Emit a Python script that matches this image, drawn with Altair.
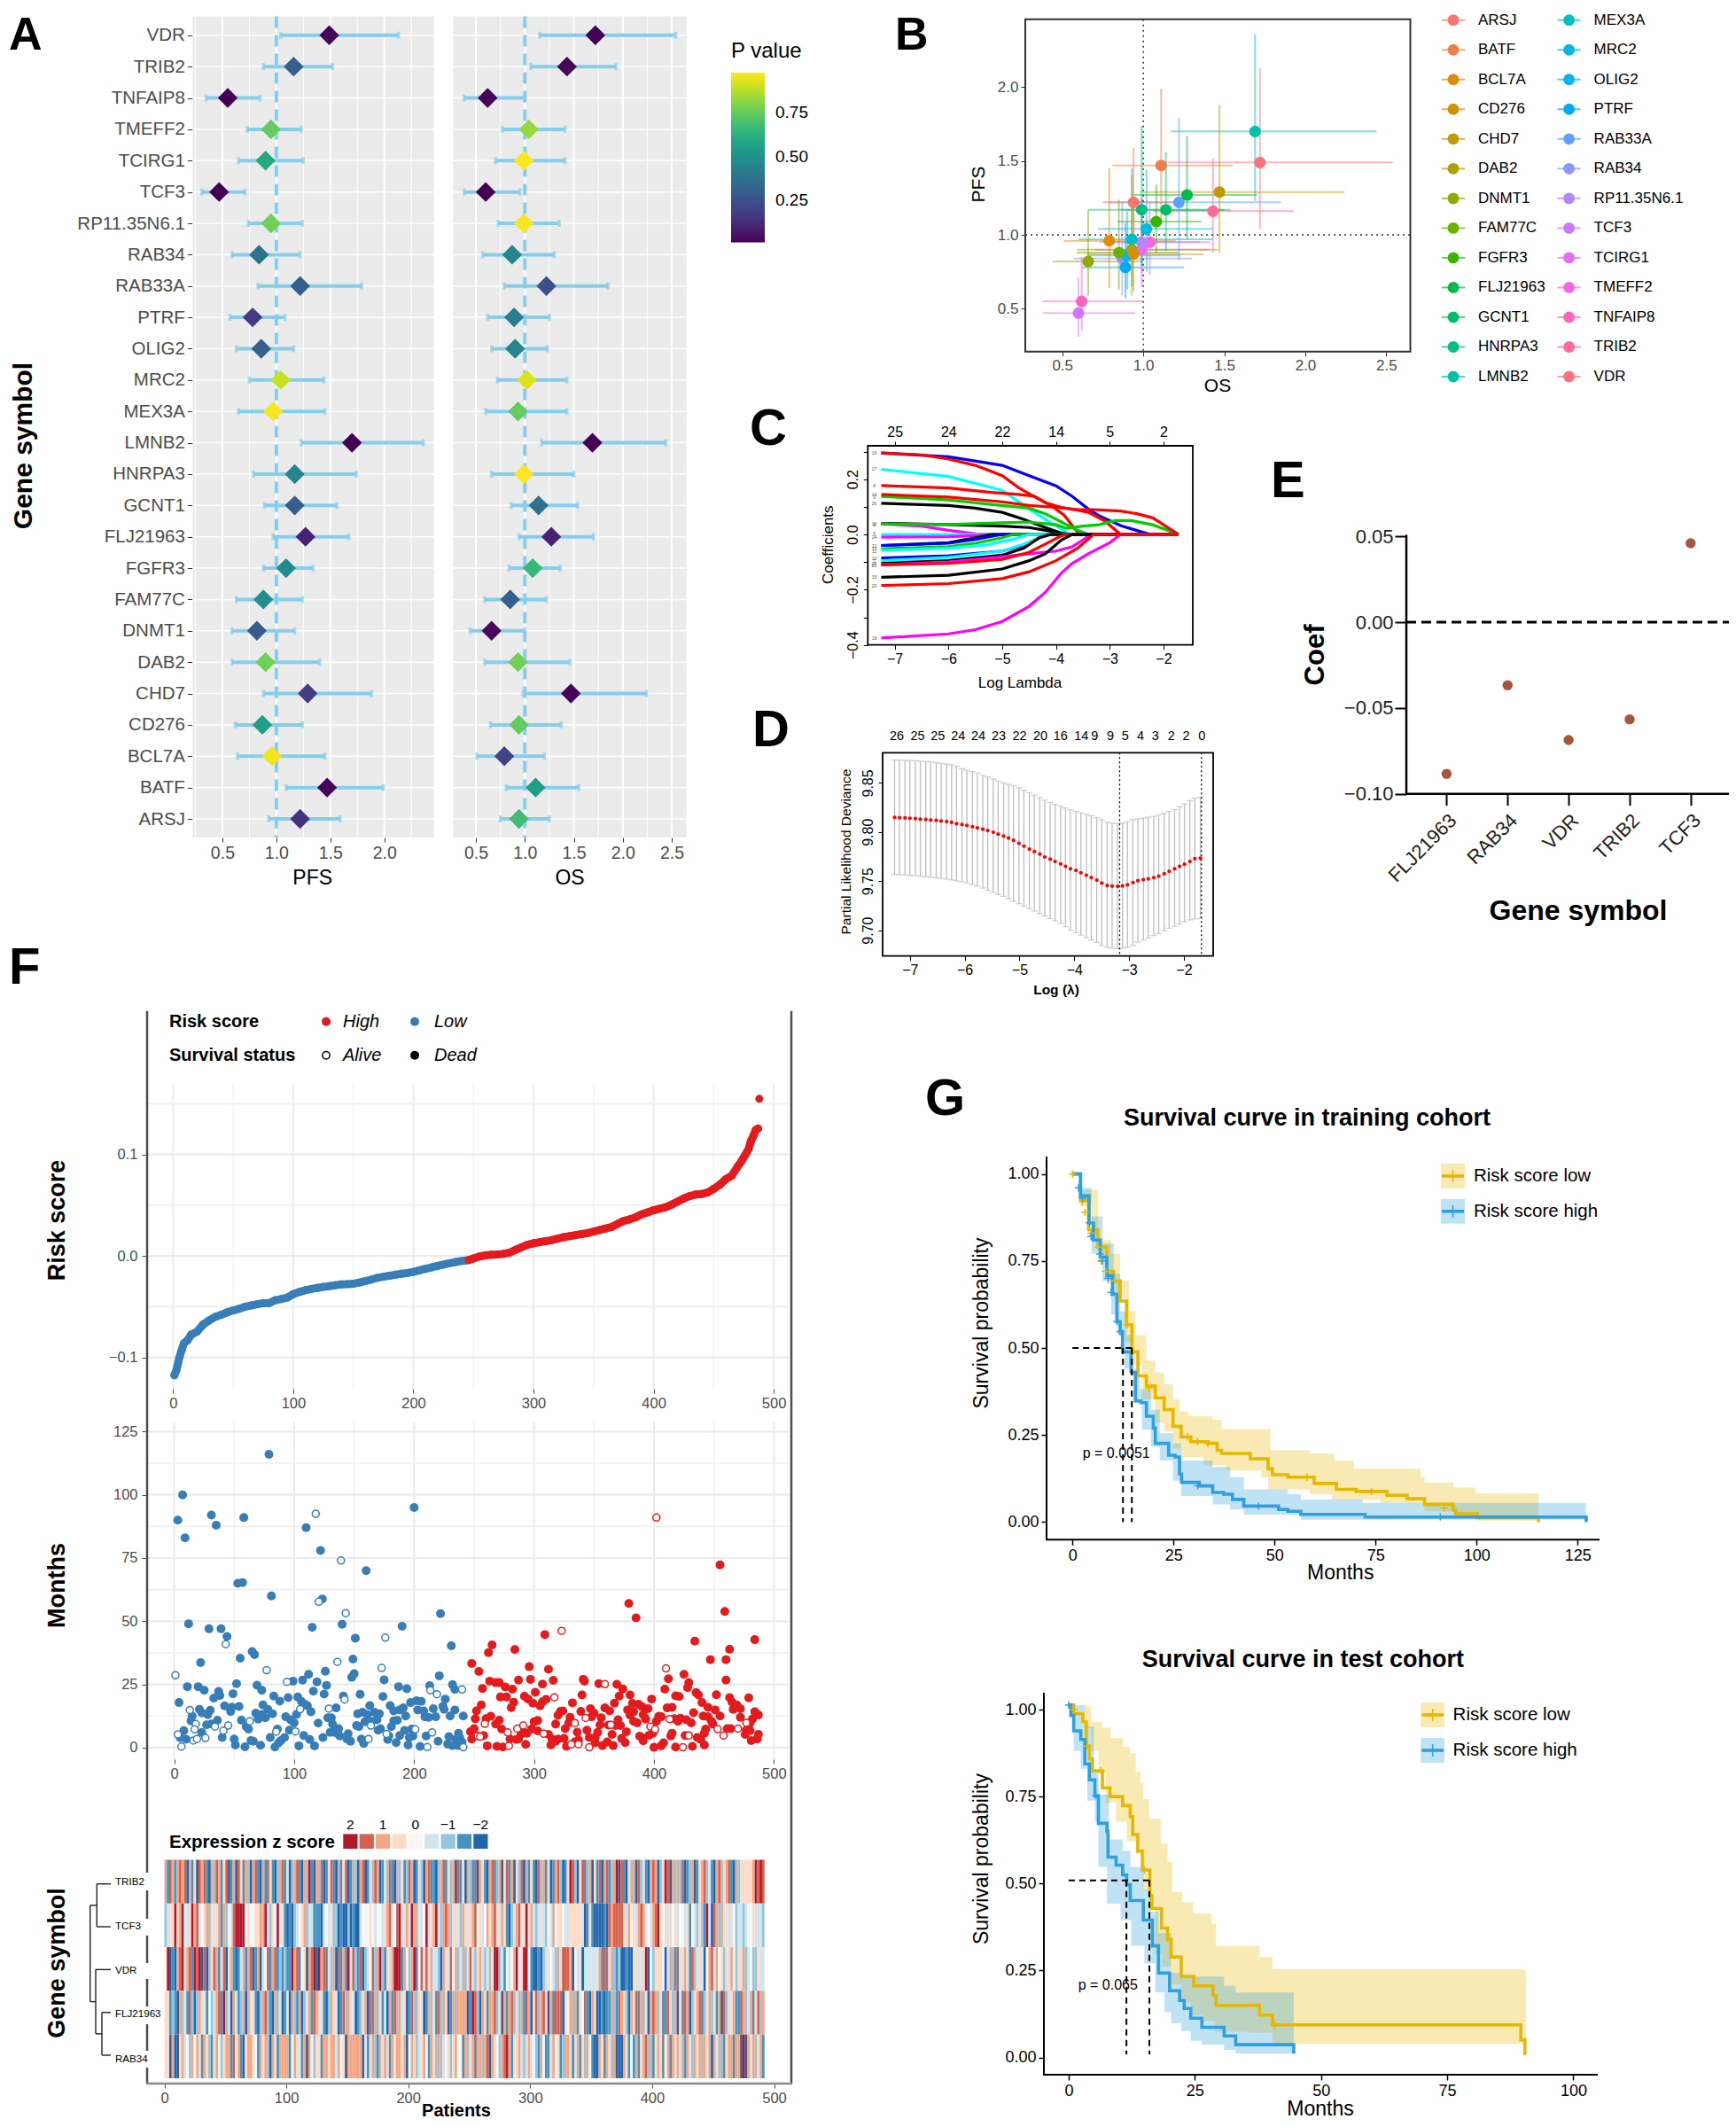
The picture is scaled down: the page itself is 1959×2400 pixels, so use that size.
import altair as alt
import pandas as pd

W, H = 1943, 2384
FONT = "Liberation Sans"
INK = "#4D4D4D"
SKY = "#87CEEB"

# ---------- Panel A / B data ----------
GENES = ["VDR","TRIB2","TNFAIP8","TMEFF2","TCIRG1","TCF3","RP11.35N6.1","RAB34","RAB33A","PTRF","OLIG2","MRC2","MEX3A",
         "LMNB2","HNRPA3","GCNT1","FLJ21963","FGFR3","FAM77C","DNMT1","DAB2","CHD7","CD276","BCL7A","BATF","ARSJ"]
PFS_LO = [1.04,.88,.35,.73,.65,.31,.74,.59,.83,.57,.63,.75,.65,1.23,.79,.89,.97,.88,.63,.59,.59,.88,.62,.64,1.09,.93]
PFS_HR = [1.49,1.16,.55,.95,.90,.47,.95,.84,1.22,.78,.86,1.04,.97,1.70,1.17,1.17,1.27,1.09,.88,.82,.90,1.29,.87,.96,1.47,1.22]
PFS_HI = [2.13,1.52,.85,1.23,1.25,.71,1.24,1.22,1.79,1.08,1.16,1.44,1.45,2.36,1.74,1.56,1.67,1.34,1.24,1.17,1.40,1.88,1.24,1.45,1.99,1.59]
PFS_P = [.02,.30,.01,.75,.60,.01,.77,.38,.30,.17,.30,.90,.97,.01,.45,.30,.10,.47,.48,.28,.77,.18,.55,.96,.02,.15]
OS_LO = [1.15,1.06,.38,.77,.70,.38,.73,.57,.79,.62,.66,.72,.60,1.17,.66,.86,.94,.84,.59,.44,.59,.98,.65,.51,.81,.75]
OS_HR = [1.72,1.43,.62,1.04,.99,.60,.99,.87,1.22,.89,.90,1.02,.93,1.69,.99,1.14,1.27,1.08,.85,.66,.93,1.47,.94,.79,1.11,.94]
OS_HI = [2.54,1.93,1.00,1.41,1.41,.95,1.35,1.30,1.85,1.25,1.23,1.43,1.43,2.44,1.50,1.54,1.70,1.36,1.22,1.00,1.46,2.24,1.37,1.20,1.55,1.25]
OS_P = [.01,.02,.02,.83,.98,.01,.97,.45,.25,.42,.45,.93,.75,.01,.98,.37,.10,.66,.30,.03,.77,.02,.75,.20,.55,.68]
LEGEND_GENES = sorted(GENES, key=lambda g: g.upper())
HUES = ["#F8766D","#EF7F49","#E38900","#D49000","#C19A00","#ABA300","#8FAA00","#6BB100","#39B600","#00BB45","#00BE67","#00C085",
        "#00C1A9","#00BFC4","#00BBDB","#00B4EF","#00ABFD","#5BA3FF","#8F94FF","#B186FF","#CF78FF","#E76BF3","#F863DF","#FF62BF","#FF6A9A","#FC717F"]
A = pd.DataFrame(dict(g=GENES,plo=PFS_LO,p=PFS_HR,phi=PFS_HI,pp=PFS_P,olo=OS_LO,o=OS_HR,ohi=OS_HI,op=OS_P))

# ---------- Panel C data (glmnet paths) ----------
CURVES = [
 ("#0000FF",[-7.25,-6,-5,-4.5,-4,-3.7,-3.4,-3.2,-2.8,-2.3,-2.2],[.295,.281,.25,.213,.176,.138,.092,.068,.032,.003,0]),
 ("#00FFFF",[-7.25,-6,-5,-4.6,-4.2,-3.9,-3.75],[.236,.21,.16,.105,.054,.02,0]),
 ("#FF0000",[-7.25,-6.5,-6,-5.5,-5,-4.7,-4.5,-4.2,-3.9,-3.6,-3.4,-3.1,-2.8],[.295,.288,.273,.25,.213,.17,.147,.115,.098,.088,.08,.05,0]),
 ("#FF0000",[-7.25,-6,-5.2,-4.7,-4.4,-4.1,-3.85,-3.65,-3.55],[.177,.168,.152,.145,.138,.105,.07,.02,0]),
 ("#00CD00",[-7.25,-6,-5,-4.5,-4.2,-3.9,-3.6,-3.4],[.138,.125,.105,.095,.075,.045,.015,0]),
 ("#000000",[-7.25,-6,-5.5,-5,-4.6,-4.2,-3.9,-3.75],[.113,.105,.095,.08,.055,.025,.005,0]),
 ("#000000",[-7.25,-6,-5,-4.5,-4.1,-3.8],[.04,.036,.03,.025,.012,0]),
 ("#FF00FF",[-7.25,-6.5,-6,-5.5,-5.2],[.038,.03,.015,.002,0]),
 ("#00FFFF",[-7.25,-5],[.0,0]),
 ("#FF00FF",[-7.25,-6,-5.5,-5],[-.01,-.008,-.004,0]),
 ("#000000",[-7.25,-6,-5.5,-5.2],[-.04,-.03,-.012,0]),
 ("#0000FF",[-7.25,-6,-5.5,-5],[-.04,-.032,-.018,0]),
 ("#00CD00",[-7.25,-6,-5.5,-5,-4.8],[-.052,-.044,-.032,-.012,0]),
 ("#00FFFF",[-7.25,-6,-5.3,-4.8,-4.5],[-.058,-.05,-.038,-.018,0]),
 ("#0000FF",[-7.25,-6,-5,-4.6,-4.3,-4.1],[-.085,-.077,-.06,-.04,-.012,0]),
 ("#00FFFF",[-7.25,-6,-5,-4.6,-4.3,-4.15],[-.095,-.083,-.06,-.035,-.01,0]),
 ("#000000",[-7.25,-6,-5,-4.6,-4.3,-4.1],[-.105,-.095,-.075,-.05,-.01,0]),
 ("#FF00FF",[-7.25,-6,-5,-4.5,-4,-3.7,-3.5,-3.35],[-.11,-.1,-.08,-.07,-.06,-.045,-.02,0]),
 ("#FF0000",[-7.25,-6,-5,-4.5,-4.1,-3.9,-3.8],[-.11,-.105,-.09,-.065,-.025,-.005,0]),
 ("#000000",[-7.25,-6,-5,-4.5,-4.2,-3.9,-3.7],[-.155,-.148,-.125,-.095,-.07,-.02,0]),
 ("#FF00FF",[-7.25,-6,-5.5,-5,-4.5,-4.2,-3.9,-3.7,-3.4,-3,-2.8],[-.375,-.36,-.345,-.315,-.26,-.21,-.14,-.105,-.07,-.03,0]),
 ("#00CD00",[-7.25,-6,-5,-4.5,-4,-3.8,-3.5,-3.2,-2.9,-2.6,-2.2,-1.72],[.038,.036,.042,.045,.035,.022,.03,.035,.05,.05,.035,0]),
 ("#FF0000",[-7.25,-6,-5,-4.5,-4,-3.6,-3.3,-2.8,-2.5,-2.2,-1.72],[.145,.135,.118,.105,.098,.09,.09,.085,.075,.06,0]),
 ("#FF0000",[-7.25,-6,-5,-4.5,-4,-3.6,-3.3,-1.72],[-.185,-.178,-.16,-.135,-.095,-.05,0,0]),
]
CURVE_TAGS = ["19","17","8","14","3","26","16","9","5","24","22","13","11","10","7","25","21","15","20","18"]
CURVE_TAG_Y = [.295,.236,.177,.145,.136,.113,.04,.036,.002,-.01,-.04,-.05,-.06,-.085,-.095,-.105,-.112,-.155,-.185,-.375]

# ---------- Panel D data (cross-validation) ----------
D_X = [-7.28,-7.19,-7.09,-7.00,-6.90,-6.81,-6.71,-6.62,-6.52,-6.43,-6.33,-6.24,-6.15,-6.05,-5.96,-5.86,-5.77,-5.67,-5.58,-5.48,
       -5.39,-5.29,-5.20,-5.11,-5.01,-4.92,-4.82,-4.73,-4.63,-4.54,-4.44,-4.35,-4.25,-4.16,-4.07,-3.97,-3.88,-3.78,-3.69,-3.59,
       -3.50,-3.40,-3.31,-3.21,-3.12,-3.03,-2.93,-2.84,-2.74,-2.65,-2.55,-2.46,-2.36,-2.27,-2.17,-2.08,-1.99,-1.89,-1.80,-1.70]
D_M = [9.8148,9.8146,9.8143,9.8140,9.8136,9.8131,9.8127,9.8122,9.8118,9.8112,9.8106,9.8098,9.8085,9.8076,9.8066,9.8054,9.8042,9.8028,9.8016,9.7998,
       9.7978,9.7958,9.7938,9.7915,9.7885,9.7855,9.7825,9.7800,9.7775,9.7745,9.7723,9.7700,9.7675,9.7650,9.7625,9.7608,9.7585,9.7560,9.7535,9.7510,
       9.7480,9.7455,9.7449,9.7447,9.7450,9.7462,9.7485,9.7505,9.7515,9.7523,9.7535,9.7550,9.7575,9.7600,9.7625,9.7650,9.7672,9.7700,9.7728,9.7734]
D_U = [9.8734,9.8733,9.8731,9.8729,9.8726,9.8722,9.8718,9.8713,9.8707,9.8700,9.8692,9.8685,9.8670,9.8645,9.8630,9.8615,9.8600,9.8580,9.8560,9.8540,
       9.8520,9.8500,9.8485,9.8470,9.8450,9.8425,9.8400,9.8375,9.8350,9.8325,9.8302,9.8280,9.8262,9.8245,9.8225,9.8210,9.8195,9.8180,9.8165,9.8145,
       9.8125,9.8100,9.8090,9.8087,9.8090,9.8105,9.8125,9.8132,9.8140,9.8150,9.8160,9.8175,9.8190,9.8210,9.8230,9.8260,9.8285,9.8320,9.8345,9.8354]
D_L = [9.7567,9.7565,9.7562,9.7558,9.7555,9.7550,9.7545,9.7540,9.7534,9.7527,9.7520,9.7512,9.7502,9.7495,9.7480,9.7465,9.7450,9.7430,9.7405,9.7385,
       9.7365,9.7345,9.7320,9.7295,9.7270,9.7245,9.7220,9.7195,9.7170,9.7145,9.7118,9.7095,9.7070,9.7035,9.7000,9.6975,9.6950,9.6925,9.6900,9.6875,
       9.6845,9.6825,9.6815,9.6812,9.6815,9.6825,9.6845,9.6880,9.6900,9.6920,9.6945,9.6965,9.6995,9.7020,9.7040,9.7060,9.7085,9.7105,9.7115,9.7118]
D_TOP_X = [-7.24,-6.86,-6.49,-6.12,-5.75,-5.38,-5.00,-4.62,-4.25,-3.87,-3.63,-3.34,-3.07,-2.79,-2.52,-2.23,-1.96,-1.67]
D_TOP = ["26","25","25","24","24","23","22","20","16","14","9","9","5","4","3","2","2","0"]

# ---------- Panel E data ----------
E_GENES = ["FLJ21963","RAB34","VDR","TRIB2","TCF3"]
E_COEF = [-.0884,-.0367,-.0686,-.0566,.0461]

# ---------- Panel F data ----------
RISK_LOW_X = [1,3,5,7,9,12,15,20,25,30,35,40,45,50,55,60,65,70,75,80,85,90,95,100,105,110,115,120,125,130,135,140,145,150,155,160,165,170,175,180,185,190,195,200,205,210,215,220,225,230,235,240,244]
RISK_LOW_Y = [-.1175,-.1115,-.1005,-.093,-.086,-.083,-.0775,-.0745,-.0675,-.0635,-.060,-.058,-.0555,-.0536,-.052,-.050,-.0488,-.0475,-.0465,-.0464,-.0435,-.0425,-.041,-.0376,-.0355,-.0338,-.0325,-.0315,-.0305,-.0297,-.0288,-.028,-.0277,-.0274,-.0262,-.0248,-.0232,-.0215,-.0205,-.0195,-.0185,-.0175,-.0168,-.0157,-.0142,-.0127,-.0113,-.0099,-.0085,-.0072,-.006,-.005,-.0045]
RISK_HIGH_X = [246,250,255,260,265,270,275,280,285,290,295,300,305,310,315,320,325,330,335,340,345,350,355,360,365,370,375,380,385,390,395,400,405,410,415,420,425,430,435,440,445,450,455,460,465,470,473,476,479,481,483,485,487,488]
RISK_HIGH_Y = [-.004,-.0025,-.0005,.0005,.0012,.0015,.002,.0032,.006,.0085,.011,.0125,.0135,.0145,.0155,.017,.0185,.0195,.0205,.0215,.0225,.024,.0255,.027,.0285,.0315,.0345,.036,.038,.041,.043,.045,.0465,.048,.0505,.0535,.0565,.059,.0605,.061,.0625,.066,.07,.0755,.079,.088,.093,.099,.105,.113,.118,.124,.1255,.1548]

LOW_DEAD = [(3,90),(7,100),(9,83),(31,92),(35,88),(58,91),(110,87),(79,116),(122,78),(160,70),(200,95),
 (12,49),(29,47),(39,47),(44,44),(22,33.6),(55,35.4),(65,38),(67,36.8),(81,60),(53,65),(57,65.3),(123.5,58.8),(115,47.6),(140,48.8),(151,43.3),(190,48),(222,53),(231,40.3),(149,35),(150,29.2),(148,27.8),(126,30.2),(112,29),(107,26.7),(99,26.3),(119,26),(127,24.6),(116,22.3),(125,21.2),(69,24.7),(73,22.7),(83,20.4),(88,18.4),(95,19.8),(52,25.3),(49,21.3),(37,22.2),(38,20.6),(33,19.6),(25,22.7),(20,24.1),(11,24.1),(4,17.8),(42,16.5),(48,16),(54,16.3),(21,15.1),(23,13.7),(28,13),(30,14.8),(47,14.3),(15,12.5),(14,10.6),(36,10.8),(31,9.3),(27,9),(56,10.8),(60,8.3),(62,7.3),(23,6),(8,6.7),(5,3.9),(10,3.3),(40,4),(50,3.4),(51,1),(59,.3),(64,2.8),(66,2.5),(72,.9),(80,4),(84,.2),(87,1.9),(89,2.8),(92,4),(86,7.3),(96,6.9),(74,16.9),(68,13.6),(70,11.3),(76,11.8),(78,15.1),(82,13.4),(73,13.1),(93,12.2),(97,11),(100,9.8),(102,13.1),(103,20),(106,18.3),(109,17.1),(111,16.5),(114,14.2),(120,9.7),(128,11.8),(131,11.8),(135,15.7),(132,9.3),(130,6),(133,6.1),(137,7.5),(136,5.7),(138,4.6),(145,5.5),(144,3.4),(147,2.5),(108,4.8),(113,3.2),(124,4),(104,.7),(117,.7),(141,20.4),(155,21.1),(163,16.6),(153,13.4),(157,14),(161,13.1),(167,14),(171,13.4),(169,11),(165,10.4),(159,10.2),(152,8.7),(154,8.3),(170,6.9),(172,7.5),(174,20.2),(175,26.8),(187,24.1),(194,23.3),(180,16.6),(183,14.5),(191,15.7),(188,14.9),(193,12.5),(186,10.8),(183,10.6),(181,8.3),(197,17.8),(202,18.5),(206,18.3),(203,14.9),(208,14.5),(216,15.4),(209,12.2),(212,12),(218,12.2),(224,16.3),(226,19.2),(221,28.4),(213,24.5),(232,24.9),(234,23),(225,15.1),(230,12.5),(234,14.9),(241,12.5),(192,6.8),(188,4.8),(179,4.6),(178,3.2),(185,2),(198,7.3),(199,4.6),(196,4),(195,1),(205,.5),(210,4.6),(220,2.5),(229,4.3),(228,1.4),(232,.8),(237,.8),(235,3.4),(237,5.7),(238,4),(240,2.2),(156,3.4),(158,1.6)]
LOW_ALIVE = [(118,92.5),(139,74),(1,28.6),(43,40.9),(120.5,57.7),(143,53.2),(176,43.5),(77,30.6),(94,26),(136,33.9),(173,31.5),(213.5,22.7),(219,21.1),(240,23),(142,19),(129,15.4),(105,15.2),(13,14.9),(63,10.4),(18,9.3),(17,7.2),(45,8.7),(34,8.3),(41,6.7),(3,5.2),(16,2.8),(19,3.4),(26,3.8),(6,.4),(85,6.3),(101,6.4),(164,8.7),(177,5.4),(162,3.4),(201,7.2),(215,6),(211,.2),(241,.1)]
HIGH_DEAD = [(455,72.3),(379,57),(385,51.3),(459,53.9),(434,42.1),(484,42.7),(309,44.7),(463,38.9),(447,34.8),(460,34.8),(460,26.7),(265,40.6),(262,37.6),(284,38.8),(248,33.3),(254,30.1),(296,32),(312,31),(263,26.3),(268,25.7),(271,25.7),(276,24),(287,26.7),(297,27),(307,25.1),(316,26.6),(257,23.4),(282,23.1),(341,27),(342,26.3),(354,25.3),(369,25),(374,23.2),(301,21.9),(340,20.8),(272,20),(277,20),(292,20.3),(295,19.2),(299,17.6),(310,19.1),(307,18.1),(305,16.5),(283,17.9),(281,15.8),(256,16.9),(252,14.5),(332,17.7),(322,14.3),(324,14.5),(320,12.8),(339,14.3),(347,15.4),(350,13.6),(348,12.2),(330,12),(356,11.8),(359,15.7),(363,14.5),(367,17.6),(371,20.4),(380,20.8),(382,17.5),(387,17.1),(390,16.2),(395,15.4),(378,14.9),(383,14.2),(380,12.9),(391,13),(393,11.3),(383,10.4),(386,9.8),(398,19.2),(409,23.1),(412,27.2),(429,25.7),(428,23.7),(425,29),(435,21.8),(437,20.8),(418,20.5),(421,20.2),(440,17.8),(452,20.9),(445,15.9),(451,14.9),(479,19.7),(463,19.8),(465,18),(469,16.9),(472,15.4),(466,15.1),(411,15.7),(415,15.9),(433,13.8),(441,12.5),(445,12.2),(455,12.5),(484,14.2),(487,12.9),(472,12),(482,11.3),(404,12.4),(406,12.2),(402,10.4),(417,11.4),(422,11.6),(427,11),(431,9.8),(420,10.4),(448,10.4),(449,9.3),(480,9.8),(479,8.7),(477,6.9),(480,6.7),(476,5.2),(487,5.2),(486,3.4),(481,2.8),(464,7.5),(461,7.5),(443,7.3),(442,5.7),(436,4),(439,3.2),(442,1),(432,.5),(418,.2),(415,5.7),(414,4.6),(426,4.8),(408,1.9),(406,.7),(400,.1),(399,5.7),(396,4.9),(388,4.5),(390,4),(391,2.7),(377,6.3),(373,3.6),(376,2),(365,5.2),(366,.8),(361,2.2),(357,.8),(370,11),(372,8.7),(368,8.7),(362,8.9),(355,9),(353,6),(351,4),(346,4),(344,6.9),(351,1.9),(336,6.1),(337,3),(334,2.2),(327,.5),(325,3.6),(326,7.5),(329,9.8),(318,9.3),(314,1),(315,3.4),(312,5.2),(320,3.4),(318,2.5),(303,10.7),(300,10.2),(298,7.3),(303,6.6),(294,5.7),(290,7.5),(289,5.2),(287,3.4),(285,3.2),(280,3.4),(293,1.3),(274,.2),(269,.5),(261,.7),(273,7.3),(271,10.8),(268,9.3),(264,12.4),(260,11.4),(251,11.4),(250,7.5),(247,6.3),(248,3.4),(258,4.8)]
HIGH_ALIVE = [(402,91),(323,46.2),(410,31.3),(359,25.1),(317,19.9),(343,11.7),(413,11.3),(334,9.7),(397,8.3),(401,7.2),(259,9.4),(278,6),(286,7.5),(291,8.7),(308,5.5),(253,4.6),(255,4.3),(279,.7),(331,1.3),(337,1.3),(346,.1),(364,9),(429,4.8),(424,.1),(453,7.3),(458,4.8),(470,7.5),(477,9.8)]

HEAT_GENES = ["TRIB2","TCF3","VDR","FLJ21963","RAB34"]
HEAT_ROWS = [
 "2712721218 2738121782 6127318728 1372682178 2713786217 3862178260 7826187317 8273187268 2187361287 3617826376 1287368217 7862173628 1738267182 3782176283 1728361827 3781627387 2168730168 3176283718 2176208178 3628163782 1286301826 2618762873 2163782163 2178263333 3201012083",
 "6533032045 3021543263 5327264510 0004344332 2056340437 8786543265 5777854536 6878868788 5444345445 3215410352 5026354053 20562 1263536235 3214354232 1352378652 1530525653 5645243345 5333335873 7888878121 1113524352 1254521034 9994354453 7456367058 1262999946 5565443555 6546995",
 "4087821052 1701081825 1273183278 7527218728 5417217676 7702174382 1080217362 8172705167 1865416206 7352000724 6207415152 55682 3514265263 1563256363 0065745420 4300478878 6534562511 1284538555 5536171526 7688788999 9908463334 8526173525 7163538421 5243635246 3526546635 56",
 "3376782637 1686253746 5217063825 7628253786 2167826387 3826728632 7125378623 5871625387 6328172637 5827162538 7162538726 37162 3872622228 7016823722 1638272163 6271283162 1382711183 4262734178 2388787726 7123682317 2638212637 7136283712 8632176326 3728165327 7126527316 2",
 "3382883254 6242372367 3246322714 2783223472 3268237222 2742357282 4633722322 5243822222 2837326725 2372322328 4236532472 36263 4363244726 3272262182 3462102733 2563254672 4773243762 2375273624 7882372362 8882374727 3216273237 4272325272 3623262328 2362732272 2808232632 7",
]
HEAT_COLORS = {"0":"#B2182B","1":"#D6604D","2":"#F4A582","3":"#FDDBC7","4":"#F7F7F7","5":"#D1E5F0","6":"#92C5DE","7":"#4393C3","8":"#2166AC","9":"#E4E0DC"}
Z_COLORS = ["#B2182B","#D6604D","#F4A582","#FDDBC7","#F7F7F7","#D1E5F0","#92C5DE","#4393C3","#2166AC"]
Z_TICKS = ["2","1","0","−1","−2"]

# ---------- Panel G data ----------
TR_LOW_T = [0,2,4,6.3,8.5,10.2,11.8,13.4,14.7,16.2,18.3,20.5,22.7,24.9,26.9,29.3,33.6,35.8,36.9,44,48.4,49.5,53.3,59.8,65.3,70.2,77.8,82.8,87.1,94.2,94.8,100.2,115.3]
TR_LOW_S = [1,.927,.84,.79,.72,.693,.635,.567,.489,.42,.391,.357,.323,.275,.245,.231,.226,.206,.197,.182,.153,.136,.129,.111,.094,.088,.077,.067,.051,.034,.024,.0136,0]
TR_LOW_UT = [0,2,6.3,9.6,11.8,14,15.6,18.3,20.5,22.7,24.9,26.5,28.7,34.7,36.9,46.1,48.9,58.7,64.7,69.7,86.1,87.1,94.2,99.7,115.3]
TR_LOW_U = [1,.955,.81,.77,.693,.606,.537,.464,.43,.396,.352,.318,.304,.294,.267,.267,.206,.197,.177,.153,.129,.114,.099,.082,.08]
TR_LOW_LT = [0,2,4.1,6.3,8.5,10.7,12.9,15.1,17.2,20.5,22.7,24.9,26.9,32.5,38,46.7,48.4,58.7,64.2,76.2,87.1,94.2,99.7,115.3]
TR_LOW_L = [1,.907,.82,.752,.684,.645,.518,.45,.352,.284,.26,.211,.187,.163,.148,.129,.094,.08,.065,.055,.031,.012,.004,0]
TR_HI_T = [0,2,4.1,5.2,6.9,8.5,9.9,11,11.8,12.4,14.5,15.6,17,18.3,20,20.5,23.8,25.4,26.5,27,31.4,34.7,37.4,39.6,42.4,51,53.3,56.5,72.4,127.1]
TR_HI_S = [1,.937,.859,.81,.761,.708,.654,.576,.547,.489,.43,.348,.343,.304,.27,.226,.192,.187,.138,.114,.104,.085,.08,.065,.046,.036,.031,.022,.0146,0]
TR_HI_UT = [0,2,4.7,7.4,10.2,11.8,13.4,15.1,16.7,19.4,21.6,24.9,26.9,34.7,39,42.4,53.3,56.5,71.8,127]
TR_HI_U = [1,.96,.878,.80,.713,.606,.537,.44,.382,.323,.255,.226,.177,.158,.129,.094,.08,.065,.055,.055]
TR_HI_LT = [0,2,4.7,7.4,9.6,11.2,12.9,15.1,17.2,19.4,21.6,24.9,26.9,34.7,39,42.4,56.5,127]
TR_HI_L = [1,.917,.771,.693,.596,.537,.44,.343,.265,.216,.177,.119,.075,.051,.036,.021,.007,.004]
TR_LOW_CENS = [(0,1),(2.4,.92),(3.1,.89),(4.6,.83),(6.4,.79),(7.1,.75),(8.2,.72),(10.4,.693),(13.5,.567),(15,.489),(19,.385),(28.5,.245),(31,.231),(33.5,.226),(58,.129),(74,.088),(92,.04)]
TR_HI_CENS = [(1.5,.96),(2.5,.93),(4.2,.86),(4.6,.82),(6.8,.77),(7.4,.75),(8.8,.7),(9.6,.66),(11,.576),(11.8,.547),(31,.104),(46,.046),(91,.0146)]
TR_DASH = [(0,14.7,.5,.5),(12.5,12.5,.5,0),(14.7,14.7,.5,0)]

TE_LOW_T = [0,1,2.8,3.5,4.1,4.7,6.7,8.2,10.7,12.2,12.7,13.7,14.6,16.1,16.5,18.4,19.6,20.3,22.3,24.8,28.6,29.2,37.8,40.4,89.6,90.4,90.6]
TE_LOW_S = [1.013,.988,.965,.895,.858,.824,.775,.75,.724,.692,.641,.593,.539,.465,.428,.372,.34,.289,.233,.206,.178,.15,.122,.094,.051,.011,.011]
TE_LOW_UT = [0,3.7,4.5,6.6,8.3,10.7,12.2,13.3,14.2,14.8,15.9,18.3,19.6,20.5,22.5,24.7,28.3,29.2,37.8,40.4,89.6,90.6]
TE_LOW_U = [1.013,1.009,.965,.948,.918,.893,.874,.821,.789,.743,.687,.615,.562,.476,.446,.414,.384,.321,.289,.254,.252,.252]
TE_LOW_LT = [0,3.2,4.5,5.9,7.4,9.4,11.5,13.3,14.6,15.9,17.2,18.5,20.3,22.3,24.2,26.6,29,35.6,40.4,90.6]
TE_LOW_L = [1.013,.946,.881,.817,.733,.678,.622,.585,.483,.428,.298,.261,.21,.159,.122,.104,.074,.071,.039,.037]
TE_HI_T = [0,.44,1,2.4,3.2,4.1,5.2,5.9,7.6,7.8,9.4,10.7,11.5,12.2,14.8,16.6,17.8,20,22,22.9,24.2,26.4,30.8,33.1,44.5,44.6]
TE_HI_S = [1.013,.983,.939,.914,.844,.798,.752,.673,.65,.576,.553,.525,.497,.451,.395,.321,.243,.192,.164,.141,.113,.087,.062,.037,.037,.011]
TE_HI_UT = [0,3.2,5,5.9,8,10.7,12.2,14.8,16.3,17.8,20.3,22,30.8,33.1,44.6]
TE_HI_U = [1.013,.951,.826,.756,.627,.594,.548,.483,.419,.358,.243,.233,.206,.187,.187]
TE_HI_LT = [0,1,2.4,3.7,5.2,5.9,7.6,10.3,12.4,15,17.2,19,20.3,22.3,24.2,26.4,30.8,33.1,44.6]
TE_HI_L = [1.013,.881,.83,.738,.678,.548,.442,.395,.321,.27,.187,.131,.099,.076,.048,.037,.022,.011,.011]
TE_LOW_CENS = [(1.1,1.0),(3.7,.895),(6.4,.824),(15,.539),(40.8,.094)]
TE_HI_CENS = [(0,1.013),(5.4,.752)]
TE_DASH = [(0,16,.509,.509),(11.45,11.45,.509,.009),(16,16,.509,.009)]


# ---------- helpers ----------
ONE = alt.Data(values=[{"a": 1}])

def sc(lo, hi, a, b):
    return alt.Scale(domain=[lo, hi], range=[a - 8, b - 8], nice=False, zero=False)

def bax(pos, size=17, color=INK, tick=5, pad=3, **k):
    return alt.Axis(orient="bottom", offset=pos - 8 - H, grid=False, title=None, domain=k.pop("domain", False),
                    tickSize=tick, labelFontSize=size, labelColor=color, tickColor=k.pop("tickColor", color),
                    labelPadding=pad, labelOverlap=False, labelFlush=False, **k)

def lax(pos, size=17, color=INK, tick=5, pad=3, **k):
    return alt.Axis(orient="left", offset=-(pos - 8), grid=False, title=None, domain=k.pop("domain", False),
                    tickSize=tick, labelFontSize=size, labelColor=color, tickColor=k.pop("tickColor", color),
                    labelPadding=pad, labelOverlap=False, labelFlush=False, **k)

def ax_x(vals, scale, axis):
    return alt.Chart(pd.DataFrame({"v": vals})).mark_rule(opacity=0).encode(
        x=alt.X("v:Q", scale=scale, axis=axis), y=alt.value(0), y2=alt.value(1))

def ax_y(vals, scale, axis, kind="Q"):
    return alt.Chart(pd.DataFrame({"v": vals})).mark_rule(opacity=0).encode(
        y=alt.Y("v:" + kind, scale=scale, axis=axis, sort=None), x=alt.value(0), x2=alt.value(1))

def txt(s, x, y, size, weight="normal", color="black", angle=0, align="center", style="normal", baseline="middle"):
    return alt.Chart(ONE).mark_text(text=s, fontSize=size, fontWeight=weight, color=color, angle=angle, align=align,
                                    fontStyle=style, baseline=baseline).encode(x=alt.value(x - 8), y=alt.value(y - 8))

def letter(s, x, baseline_y, size=58):
    return txt(s, x, baseline_y, size, weight="bold", align="left", baseline="alphabetic")

def hline(y, x1, x2, color="black", w=2, dash=None):
    kw = dict(color=color, strokeWidth=w)
    if dash: kw["strokeDash"] = dash
    return alt.Chart(ONE).mark_rule(**kw).encode(x=alt.value(x1 - 8), x2=alt.value(x2 - 8), y=alt.value(y - 8))

def vline(x, y1, y2, color="black", w=2):
    return alt.Chart(ONE).mark_rule(color=color, strokeWidth=w).encode(x=alt.value(x - 8), y=alt.value(y1 - 8), y2=alt.value(y2 - 8))

def box(l, t, r, b, fill=None, stroke=None, w=1.5, opacity=1):
    kw = dict(opacity=opacity)
    if fill: kw["fill"] = fill
    else: kw["fillOpacity"] = 0
    if stroke: kw.update(stroke=stroke, strokeWidth=w)
    return alt.Chart(ONE).mark_rect(**kw).encode(x=alt.value(l - 8), x2=alt.value(r - 8), y=alt.value(t - 8), y2=alt.value(b - 8))

def vgrid(vals, sx, t, b, color, w, dash=None):
    kw = dict(color=color, strokeWidth=w)
    if dash: kw["strokeDash"] = dash
    return alt.Chart(pd.DataFrame({"v": vals})).mark_rule(**kw).encode(
        x=alt.X("v:Q", scale=sx, axis=None), y=alt.value(t - 8), y2=alt.value(b - 8))

def hgrid(vals, sy, l, r, color, w, dash=None):
    kw = dict(color=color, strokeWidth=w)
    if dash: kw["strokeDash"] = dash
    return alt.Chart(pd.DataFrame({"v": vals})).mark_rule(**kw).encode(
        y=alt.Y("v:Q", scale=sy, axis=None), x=alt.value(l - 8), x2=alt.value(r - 8))


# ---------- Panel A ----------
SY_A = alt.Scale(type="point", domain=GENES, range=[39.8 - 8, 924 - 8], padding=0)

def forest(lo, mid, hi, pv, sx, l, r, major, minor, legend):
    t, b = 18.6, 945
    y_plain = alt.Y("g:N", scale=SY_A, axis=None, sort=GENES)
    col = alt.Color(pv + ":Q", scale=alt.Scale(scheme="viridis", domain=[.01, .98]), legend=legend)
    rows = alt.Chart(pd.DataFrame({"g": GENES})).mark_rule(color="white", strokeWidth=1.5).encode(
        y=y_plain, x=alt.value(l - 8), x2=alt.value(r - 8))
    base = alt.Chart(A)
    return alt.layer(
        box(l, t, r, b, fill="#EBEBEB"),
        vgrid(minor, sx, t, b, "white", 1),
        vgrid(major, sx, t, b, "white", 2),
        rows,
        vgrid([1.0], sx, t, b, SKY, 4, dash=[13, 8]),
        base.mark_rule(color=SKY, strokeWidth=4).encode(x=alt.X(lo + ":Q", scale=sx, axis=None), x2=hi, y=y_plain),
        base.mark_tick(color=SKY, size=8, thickness=3.5, orient="vertical").encode(x=alt.X(lo + ":Q", scale=sx, axis=None), y=y_plain),
        base.mark_tick(color=SKY, size=8, thickness=3.5, orient="vertical").encode(x=alt.X(hi + ":Q", scale=sx, axis=None), y=y_plain),
        base.mark_point(shape="diamond", filled=True, size=500, opacity=1).encode(x=alt.X(mid + ":Q", scale=sx, axis=None), y=y_plain, color=col),
    )

P_LEGEND = alt.Legend(orient="none", legendX=825 - 8, legendY=46 - 8, title="P value", titleFontSize=24, titleFontWeight="normal",
                      titleColor="black", titlePadding=12, gradientLength=191.6, gradientThickness=38, values=[.25, .5, .75], format=".2f",
                      labelFontSize=19, labelColor="black", labelOffset=12, gradientStrokeWidth=0, tickCount=3)
sx_a1 = sc(.225, 2.46, 217.4, 489.8)
sx_a2 = sc(.267, 2.65, 511.3, 774.6)
panel_a1 = forest("plo", "p", "phi", "pp", sx_a1, 217.4, 489.8, [.5, 1, 1.5, 2], [.25, .75, 1.25, 1.75, 2.25], P_LEGEND)
panel_a2 = forest("olo", "o", "ohi", "op", sx_a2, 511.3, 774.6, [.5, 1, 1.5, 2, 2.5], [.75, 1.25, 1.75, 2.25], None)
axes_a = [
    ax_y(GENES, SY_A, lax(217.4, size=20.5, tick=6, tickColor="#333333"), kind="N"),
    ax_x([.5, 1, 1.5, 2], sx_a1, bax(945, size=19.5, tick=5, tickColor="#333333", values=[.5, 1, 1.5, 2], format=".1f")),
    ax_x([.5, 1, 1.5, 2, 2.5], sx_a2, bax(945, size=19.5, tick=5, tickColor="#333333", values=[.5, 1, 1.5, 2, 2.5], format=".1f")),
]

# ---------- Panel B ----------
sx_b = sc(.272, 2.648, 1157, 1591.5)
sy_b = sc(.21, 2.46, 396.7, 21.7)
col_b = alt.Color("g:N", scale=alt.Scale(domain=LEGEND_GENES, range=HUES), legend=None)
panel_b = alt.layer(
    box(1157, 21.7, 1591.5, 396.7, stroke="#333333", w=2),
    alt.Chart(A).mark_rule(strokeWidth=2, opacity=.5).encode(
        x=alt.X("olo:Q", scale=sx_b, axis=None), x2="ohi", y=alt.Y("p:Q", scale=sy_b, axis=None), color=col_b),
    alt.Chart(A).mark_rule(strokeWidth=2, opacity=.5).encode(
        x=alt.X("o:Q", scale=sx_b, axis=None), y=alt.Y("plo:Q", scale=sy_b, axis=None), y2="phi", color=col_b),
    vgrid([1.0], sx_b, 21.7, 396.7, "#333333", 1.5, dash=[2, 4]),
    hgrid([1.0], sy_b, 1157, 1591.5, "#333333", 1.5, dash=[2, 4]),
    alt.Chart(A).mark_circle(size=170, opacity=1).encode(
        x=alt.X("o:Q", scale=sx_b, axis=None), y=alt.Y("p:Q", scale=sy_b, axis=None), color=col_b),
)
axes_b = [
    ax_x([.5, 1, 1.5, 2, 2.5], sx_b, bax(396.7, tick=5, tickColor="#333333", values=[.5, 1, 1.5, 2, 2.5], format=".1f")),
    ax_y([.5, 1, 1.5, 2], sy_b, lax(1157, tick=5, tickColor="#333333", values=[.5, 1, 1.5, 2], format=".1f")),
]
LEG = pd.DataFrame({"g": LEGEND_GENES, "c": [0] * 13 + [1] * 13, "r": list(range(13)) * 2})
sx_leg = sc(0, 1, 1640, 1770.6)
sy_leg = sc(0, 12, 22.7, 425)
lgx = alt.X("c:Q", scale=sx_leg, axis=None)
lgy = alt.Y("r:Q", scale=sy_leg, axis=None)
panel_b_leg = alt.layer(
    alt.Chart(LEG).mark_tick(orient="horizontal", size=26, thickness=2, opacity=.7).encode(x=lgx, y=lgy, color=col_b),
    alt.Chart(LEG).mark_circle(size=165, opacity=1).encode(x=lgx, y=lgy, color=col_b),
    alt.Chart(LEG).mark_text(align="left", dx=28, fontSize=17, color="black").encode(x=lgx, y=lgy, text="g:N"),
)

# ---------- Panel C ----------
sx_c = sc(-7.5, -1.456, 979.3, 1346)
sy_c = sc(-.4, .321, 727.7, 503)
C_ROWS = []
for i, (c, xs, ys) in enumerate(CURVES):
    for xv, yv in zip(list(xs) + [-1.72], list(ys) + [0]):
        C_ROWS.append({"id": i, "c": c, "x": xv, "y": yv})
C_DF = pd.DataFrame(C_ROWS)
panel_c = alt.layer(
    alt.Chart(C_DF).mark_line(strokeWidth=3.2).encode(
        x=alt.X("x:Q", scale=sx_c, axis=None), y=alt.Y("y:Q", scale=sy_c, axis=None),
        detail="id:N", color=alt.Color("c:N", scale=None)),
    alt.Chart(pd.DataFrame({"t": CURVE_TAGS, "y": CURVE_TAG_Y, "x": [-7.38] * len(CURVE_TAGS)})).mark_text(fontSize=5, color="#555555").encode(
        x=alt.X("x:Q", scale=sx_c, axis=None), y=alt.Y("y:Q", scale=sy_c, axis=None), text="t:N"),
    box(979.3, 503, 1346, 727.7, stroke="black", w=1.8),
)
C_TOP = "datum.value==-7?'25':datum.value==-6?'24':datum.value==-5?'22':datum.value==-4?'14':datum.value==-3?'5':'2'"
axes_c = [
    ax_x([-7, -6, -5, -4, -3, -2], sx_c, bax(727.7, size=16, color="black", tick=5, values=[-7, -6, -5, -4, -3, -2], format="d")),
    ax_y([-.4, .3], sy_c, lax(979.3, size=16, color="black", tick=5, pad=4, labelAngle=270, labelAlign="center", labelBaseline="bottom",
         values=[-.4, -.3, -.2, -.1, 0, .1, .2, .3], labelExpr="abs(round(datum.value*10))%2==0 ? format(datum.value,'.1f') : ''")),
    ax_x([-7, -6, -5, -4, -3, -2], sx_c, alt.Axis(orient="top", offset=-(503 - 8), grid=False, title=None, domain=False, tickSize=5, labelFontSize=16,
         labelColor="black", tickColor="black", labelPadding=3, values=[-7, -6, -5, -4, -3, -2], labelExpr=C_TOP)),
]

# ---------- Panel D ----------
sx_d = sc(-7.498, -1.466, 996, 1369)
sy_d = sc(9.6737, 9.8808, 1078.7, 849.3)
D_DF = pd.DataFrame({"x": D_X, "m": D_M, "u": D_U, "l": D_L})
dx = alt.X("x:Q", scale=sx_d, axis=None)
panel_d = alt.layer(
    alt.Chart(D_DF).mark_rule(color="#BEBEBE", strokeWidth=1.3).encode(x=dx, y=alt.Y("l:Q", scale=sy_d, axis=None), y2="u"),
    alt.Chart(D_DF).mark_tick(color="#BEBEBE", orient="horizontal", size=7, thickness=1.3).encode(x=dx, y=alt.Y("l:Q", scale=sy_d, axis=None)),
    alt.Chart(D_DF).mark_tick(color="#BEBEBE", orient="horizontal", size=7, thickness=1.3).encode(x=dx, y=alt.Y("u:Q", scale=sy_d, axis=None)),
    alt.Chart(D_DF).mark_circle(color="#FF0000", size=18, opacity=1).encode(x=dx, y=alt.Y("m:Q", scale=sy_d, axis=None)),
    vgrid([-3.173, -1.68], sx_d, 849.3, 1078.7, "black", 1.3, dash=[2, 3]),
    alt.Chart(pd.DataFrame({"x": D_TOP_X, "t": D_TOP})).mark_text(fontSize=14.5, color="black").encode(x=dx, y=alt.value(831 - 8), text="t:N"),
    box(996, 849.3, 1369, 1078.7, stroke="black", w=1.8),
)
axes_d = [
    ax_x([-7, -2], sx_d, bax(1078.7, size=16, color="black", tick=5, values=[-7, -6, -5, -4, -3, -2], format="d")),
    ax_y([9.7, 9.85], sy_d, lax(996, size=16, color="black", tick=5, pad=4, labelAngle=270, labelAlign="center", labelBaseline="bottom",
         values=[9.7, 9.75, 9.8, 9.85], format=".2f")),
]

# ---------- Panel E ----------
sy_e = sc(-.1, .05, 895.7, 605.4)
sx_e = alt.Scale(type="point", domain=E_GENES, range=[1632.4 - 8, 1907.8 - 8], padding=0)
E_DF = pd.DataFrame({"g": E_GENES, "c": E_COEF})
panel_e = alt.layer(
    hline(702, 1587, 1951, w=3, dash=[11, 6]),
    alt.Chart(E_DF).mark_circle(color="#A9553A", size=130, opacity=1).encode(
        x=alt.X("g:N", scale=sx_e, sort=E_GENES, axis=bax(895.7, size=22, color="#222222", tick=13, pad=6, labelAngle=-45, labelAlign="right", labelBaseline="top", tickWidth=2, tickColor="black")),
        y=alt.Y("c:Q", scale=sy_e, axis=lax(1587, size=22, color="#222222", tick=13, pad=2, values=[-.1, -.05, 0, .05], format=".2f", tickWidth=2, tickColor="black"))),
    vline(1587, 603.6, 896.7, w=2.5),
    hline(895.7, 1586, 1951, w=2.5),
)

# ---------- Panel F ----------
sx_r = sc(-21.7, 514.7, 166, 893)
sy_r = sc(-.1308, .1686, 1567, 1224)
R_LOW = pd.DataFrame({"x": RISK_LOW_X, "y": RISK_LOW_Y})
R_HIGH = pd.DataFrame({"x": RISK_HIGH_X, "y": RISK_HIGH_Y})
rx = alt.X("x:Q", scale=sx_r, axis=None)
ry = alt.Y("y:Q", scale=sy_r, axis=None)
panel_risk = alt.layer(
    vgrid([50, 150, 250, 350, 450], sx_r, 1224, 1567, "#F0F0F0", 1.2),
    vgrid([0, 100, 200, 300, 400, 500], sx_r, 1224, 1567, "#EBEBEB", 2),
    hgrid([-.05, .05, .15], sy_r, 166, 891, "#F0F0F0", 2),
    hgrid([-.1, 0, .1], sy_r, 166, 891, "#EBEBEB", 2.2),
    alt.Chart(R_LOW).mark_line(color="#377EB8", strokeWidth=9, strokeCap="round").encode(x=rx, y=ry),
    alt.Chart(R_HIGH).transform_filter("datum.y < 0.14").mark_line(color="#E41A1C", strokeWidth=9, strokeCap="round").encode(x=rx, y=ry),
    alt.Chart(R_LOW).mark_circle(color="#377EB8", size=81, opacity=1).encode(x=rx, y=ry),
    alt.Chart(R_HIGH).mark_circle(color="#E41A1C", size=81, opacity=1).encode(x=rx, y=ry),
)
axes_risk = [
    ax_x([0, 500], sx_r, bax(1567, size=16.5, color=INK, tick=5, values=[0, 100, 200, 300, 400, 500], format="d")),
    ax_y([-.1, .1], sy_r, lax(166, size=16.5, color=INK, tick=6, pad=5, values=[-.1, 0, .1], format=".1f")),
]

sx_m = sc(-22.6, 514.5, 166, 893)
sy_m = sc(-4.6, 129, 1985, 1604)
def pts(rows):
    return pd.DataFrame(rows, columns=["x", "y"])
mx = alt.X("x:Q", scale=sx_m, axis=None)
my = alt.Y("y:Q", scale=sy_m, axis=None)
panel_months = alt.layer(
    vgrid([50, 150, 250, 350, 450], sx_m, 1604, 1985, "#F0F0F0", 1.2),
    vgrid([0, 100, 200, 300, 400, 500], sx_m, 1604, 1985, "#EBEBEB", 2),
    hgrid([12.5, 37.5, 62.5, 87.5, 112.5], sy_m, 166, 891, "#F0F0F0", 1.6),
    hgrid([0, 25, 50, 75, 100, 125], sy_m, 166, 891, "#EBEBEB", 2.2),
    alt.Chart(pts(LOW_DEAD)).mark_circle(color="#377EB8", size=100, opacity=1).encode(x=mx, y=my),
    alt.Chart(pts(LOW_ALIVE)).mark_point(filled=True, fill="white", stroke="#377EB8", strokeWidth=1.5, size=64, opacity=1).encode(x=mx, y=my),
    alt.Chart(pts(HIGH_DEAD)).mark_circle(color="#E41A1C", size=100, opacity=1).encode(x=mx, y=my),
    alt.Chart(pts(HIGH_ALIVE)).mark_point(filled=True, fill="white", stroke="#E41A1C", strokeWidth=1.5, size=64, opacity=1).encode(x=mx, y=my),
)
axes_months = [
    ax_x([0, 500], sx_m, bax(1985, size=16.5, color=INK, tick=5, values=[0, 100, 200, 300, 400, 500], format="d")),
    ax_y([0, 125], sy_m, lax(166, size=16.5, color=INK, tick=6, pad=5, values=[0, 25, 50, 75, 100, 125], format="d")),
]

# heatmap
CELL_ROWS = []
for ri, s in enumerate(HEAT_ROWS):
    for ci, ch in enumerate(s.replace(" ", "")[:246]):
        CELL_ROWS.append({"a": ci * 2, "b": ci * 2 + 2, "t": ri, "u": ri + 1, "c": HEAT_COLORS[ch]})
sx_h = sc(0, 492, 185.5, 862.7)
sy_h = sc(0, 5, 2098.5, 2345)
panel_heat = alt.Chart(pd.DataFrame(CELL_ROWS)).mark_rect().encode(
    x=alt.X("a:Q", scale=sx_h, axis=None), x2="b", y=alt.Y("t:Q", scale=sy_h, axis=None), y2="u", color=alt.Color("c:N", scale=None))
axes_heat = [ax_x([0, 500], sc(0, 500, 185.5, 873.5), bax(2351, size=16.5, color=INK, tick=5, values=[0, 100, 200, 300, 400, 500], format="d"))]

# dendrogram
DENDRO = [(0,15.7,0,0),(0,15.7,1,1),(15.7,15.7,0,1),(15.7,23.3,.5,.5),(0,17,2,2),(0,10,3,3),(0,10,4,4),(10,10,3,4),(10,17,3.5,3.5),(17,17,2,3.5),(17,23.3,2.75,2.75),(23.3,23.3,.5,2.75)]
sx_dn = sc(0, 23.3, 125, 101.7)
sy_dn = sc(0, 4, 2125.7, 2319)
panel_dendro = alt.Chart(pd.DataFrame(DENDRO, columns=["a", "b", "c", "d"])).mark_rule(color="#222222", strokeWidth=1.4).encode(
    x=alt.X("a:Q", scale=sx_dn, axis=None), x2="b", y=alt.Y("c:Q", scale=sy_dn, axis=None), y2="d")

# z legend
sx_z = sc(0, 9, 386.2, 551.6)
Z_DF = pd.DataFrame({"a": [i + .06 for i in range(9)], "b": [i + .94 for i in range(9)], "c": Z_COLORS})
Z_T = pd.DataFrame({"x": [.5, 2.5, 4.5, 6.5, 8.5], "t": Z_TICKS})
panel_z = alt.layer(
    alt.Chart(Z_DF).mark_rect().encode(x=alt.X("a:Q", scale=sx_z, axis=None), x2="b", y=alt.value(2069.4 - 8), y2=alt.value(2086 - 8),
                                       color=alt.Color("c:N", scale=None)),
    alt.Chart(Z_T).mark_text(fontSize=15.5, color="black").encode(x=alt.X("x:Q", scale=sx_z, axis=None), y=alt.value(2059 - 8), text="t:N"),
)

# ---------- Panel G ----------
def step_hold(ts, vs, t):
    v = vs[0]
    for a, b in zip(ts, vs):
        if a <= t: v = b
    return v

def ribbon(tu, u, tl, l):
    all_t = sorted(set(tu) | set(tl))
    return pd.DataFrame({"t": all_t, "hi": [step_hold(tu, u, x) for x in all_t], "lo": [step_hold(tl, l, x) for x in all_t]})

YEL, BLU = "#E7B800", "#2E9FDF"
CROSS = "M-1,0L1,0M0,-1L0,1"

def km(sx, sy, l, b, xvals, t1, s1, ru1, rl1, t2, s2, ru2, rl2, c1, c2, dash):
    kx = alt.X("t:Q", scale=sx, axis=None)
    ky = lambda f: alt.Y(f + ":Q", scale=sy, axis=None)
    return [alt.layer(
        alt.Chart(ribbon(*ru1, *rl1)).mark_area(color=YEL, opacity=.3, interpolate="step-after").encode(x=kx, y=ky("lo"), y2="hi"),
        alt.Chart(ribbon(*ru2, *rl2)).mark_area(color=BLU, opacity=.3, interpolate="step-after").encode(x=kx, y=ky("lo"), y2="hi"),
        alt.Chart(pd.DataFrame({"t": t1, "s": s1})).mark_line(color=YEL, strokeWidth=3.6, interpolate="step-after").encode(x=kx, y=ky("s")),
        alt.Chart(pd.DataFrame({"t": t2, "s": s2})).mark_line(color=BLU, strokeWidth=3.6, interpolate="step-after").encode(x=kx, y=ky("s")),
        alt.Chart(pd.DataFrame(c1, columns=["t", "s"])).mark_point(shape=CROSS, color=YEL, strokeWidth=1.5, size=70, opacity=1).encode(x=kx, y=ky("s")),
        alt.Chart(pd.DataFrame(c2, columns=["t", "s"])).mark_point(shape=CROSS, color=BLU, strokeWidth=1.5, size=70, opacity=1).encode(x=kx, y=ky("s")),
        alt.Chart(pd.DataFrame(dash, columns=["a", "b", "c", "d"])).mark_rule(color="black", strokeWidth=2, strokeDash=[7, 5]).encode(
            x=alt.X("a:Q", scale=sx, axis=None), x2="b", y=ky("c"), y2="d"),
    ),
    ax_x(xvals, sx, bax(b, size=18, color="black", tick=6, tickColor="black", tickWidth=1.5, values=xvals, format="d")),
    ax_y([0, 1], sy, lax(l, size=18, color="black", tick=6, tickColor="black", tickWidth=1.5, values=[0, .25, .5, .75, 1], format=".2f")),
    ]

panels_g1 = km(sc(-6.4, 130.4, 1181, 1805), sc(-.0506, 1.05, 1737.3, 1305), 1181, 1737.3, [0, 25, 50, 75, 100, 125],
               TR_LOW_T, TR_LOW_S, (TR_LOW_UT, TR_LOW_U), (TR_LOW_LT, TR_LOW_L),
               TR_HI_T, TR_HI_S, (TR_HI_UT, TR_HI_U), (TR_HI_LT, TR_HI_L), TR_LOW_CENS, TR_HI_CENS, TR_DASH)
panels_g2 = km(sc(-4.9, 104.8, 1178, 1802.8), sc(-.0494, 1.0484, 2341, 1910), 1178, 2341, [0, 25, 50, 75, 100],
               TE_LOW_T, TE_LOW_S, (TE_LOW_UT, TE_LOW_U), (TE_LOW_LT, TE_LOW_L),
               TE_HI_T, TE_HI_S, (TE_HI_UT, TE_HI_U), (TE_HI_LT, TE_HI_L), TE_LOW_CENS, TE_HI_CENS, TE_DASH)

def g_legend(x1, x2, ty, by, ty2, by2, tx):
    items = []
    for (t, b, c, label) in [(ty, by, YEL, "Risk score low"), (ty2, by2, BLU, "Risk score high")]:
        mid = (t + b) / 2
        items += [box(x1, t, x2, b, fill=c, opacity=.3), hline(mid, x1 + 1, x2 - 1, c, 3.6), vline((x1 + x2) / 2, mid - 7, mid + 7, c, 1.5),
                  txt(label, tx, mid, 20.5, align="left")]
    return items


# ---------- Assemble ----------
layers = [
    panel_a1, panel_a2, *axes_a,
    txt("Gene symbol", 27, 503, 30, weight="bold", angle=270),
    txt("PFS", 352.7, 991, 23), txt("OS", 643, 991, 23),
    letter("A", 10, 56, size=52),
    panel_b, *axes_b, panel_b_leg,
    txt("OS", 1374, 436, 21), txt("PFS", 1105, 208, 21, angle=270),
    letter("B", 1010, 56, size=52),
    panel_c, *axes_c,
    txt("Log Lambda", 1151, 771, 17), txt("Coefficients", 934.6, 614.7, 17, angle=270),
    letter("C", 846, 502),
    panel_d, *axes_d,
    txt("Log (λ)", 1192, 1117, 15.5, weight="bold"), txt("Partial Likelihood Deviance", 955, 961, 15.5, angle=270),
    letter("D", 849, 842),
    panel_e,
    txt("Coef", 1485, 739, 31, weight="bold", angle=270), txt("Gene symbol", 1781, 1028, 32, weight="bold"),
    letter("E", 1434, 561),
    # F
    panel_risk, *axes_risk, panel_months, *axes_months, panel_heat, *axes_heat, panel_dendro, panel_z,
    vline(166, 1140.7, 2351, "#4D4D4D", 2.5), vline(893, 1140.7, 2351, "#4D4D4D", 2.5), hline(2351, 165, 894, "#8A8A8A", 2.5),
]
for y1, y2 in [(2113, 2133), (2165, 2184), (2215, 2233), (2264, 2284), (2314, 2333)]:
    layers.append(box(162, y1, 170, y2, fill="white"))
for g, y in zip(HEAT_GENES, [2124.3, 2174, 2224, 2273.3, 2324]):
    layers.append(txt(g, 130, y, 11.6, align="left"))
layers += [
    letter("F", 10, 1110),
    txt("Risk score", 64.5, 1377, 27, weight="bold", angle=270),
    txt("Months", 64.5, 1789, 27, weight="bold", angle=270),
    txt("Gene symbol", 64.5, 2215, 27, weight="bold", angle=270),
    txt("Patients", 515, 2382, 20, weight="bold"),
    txt("Expression z score", 191, 2078.6, 20.5, weight="bold", align="left"),
    txt("Risk score", 191, 1152.7, 20, weight="bold", align="left"),
    txt("Survival status", 191, 1190.7, 20, weight="bold", align="left"),
    txt("High", 387, 1152.7, 20, align="left", style="italic"), txt("Low", 490, 1152.7, 20, align="left", style="italic"),
    txt("Alive", 387, 1190.7, 20, align="left", style="italic"), txt("Dead", 490, 1190.7, 20, align="left", style="italic"),
]
F_KEY = pd.DataFrame({"x": [0, 1, 1], "y": [0, 0, 1], "c": ["#E41A1C", "#377EB8", "#000000"]})
layers += [
    alt.Chart(F_KEY).mark_circle(size=100, opacity=1).encode(
        x=alt.X("x:Q", scale=sc(0, 1, 368, 468), axis=None), y=alt.Y("y:Q", scale=sc(0, 1, 1152.7, 1190.7), axis=None), color=alt.Color("c:N", scale=None)),
    alt.Chart(pd.DataFrame({"x": [0], "y": [0]})).mark_point(filled=True, fill="white", stroke="black", strokeWidth=1.5, size=70, opacity=1).encode(
        x=alt.X("x:Q", scale=sc(0, 1, 368, 468), axis=None), y=alt.Y("y:Q", scale=sc(0, 1, 1190.7, 1228.7), axis=None)),
    # G
    *panels_g1, *panels_g2,
    vline(1181, 1305, 1738, w=2), hline(1737.3, 1180, 1805, w=2),
    vline(1178, 1910, 2342, w=2), hline(2341, 1177, 1803, w=2),
    letter("G", 1044, 1258),
    txt("Survival curve in training cohort", 1475, 1262, 27, weight="bold"),
    txt("Survival curve in test cohort", 1470.4, 1872.5, 27, weight="bold"),
    txt("Months", 1512.7, 1775, 23), txt("Months", 1490, 2380, 23),
    txt("Survival probability", 1108, 1493, 23, angle=270), txt("Survival probability", 1108, 2097.6, 23, angle=270),
    txt("p = 0.0051", 1221.7, 1640, 16, align="left"), txt("p = 0.065", 1216.7, 2240, 16, align="left"),
]
layers += g_legend(1626, 1653, 1313, 1341, 1353, 1380.6, 1663)
layers += g_legend(1603.3, 1630, 1921, 1949, 1961, 1989, 1639.6)

chart = alt.layer(*layers).resolve_scale(x="independent", y="independent", color="independent").properties(
    width=W, height=H, padding=0, background="white", autosize=alt.AutoSizeParams(type="none")
).configure(font=FONT).configure_view(stroke=None)

chart.save("out.html", embed_options={"renderer": "svg", "actions": False})
